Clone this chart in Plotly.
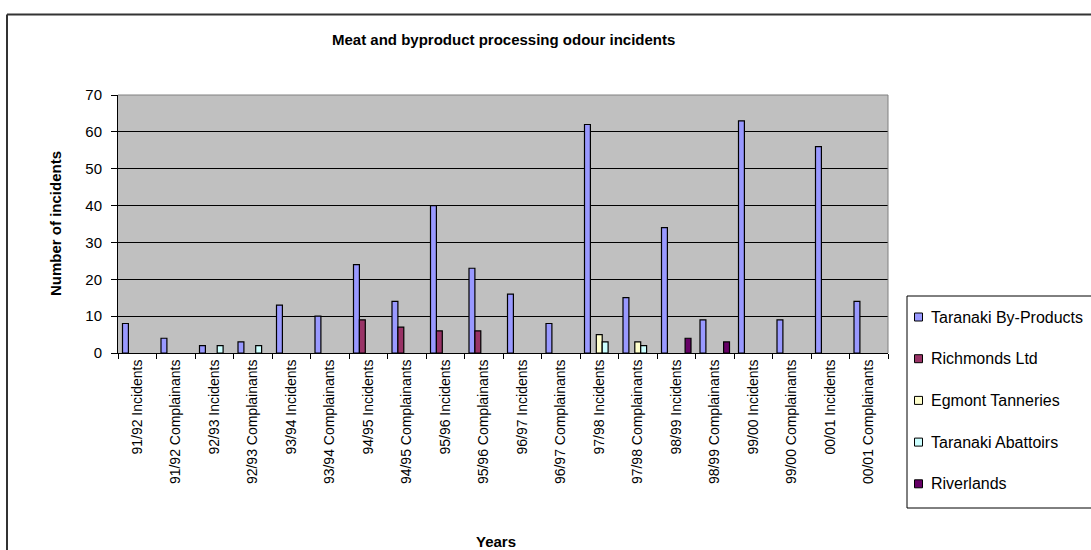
import plotly.graph_objects as go

# ---- data -------------------------------------------------------------
categories = [
    "91/92 Incidents", "91/92 Complainants",
    "92/93 Incidents", "92/93 Complainants",
    "93/94 Incidents", "93/94 Complainants",
    "94/95 Incidents", "94/95 Complainants",
    "95/96 Incidents", "95/96 Complainants",
    "96/97 Incidents", "96/97 Complainants",
    "97/98 Incidents", "97/98 Complainants",
    "98/99 Incidents", "98/99 Complainants",
    "99/00 Incidents", "99/00 Complainants",
    "00/01 Incidents", "00/01 Complainants",
]

taranaki_by_products = [8, 4, 2, 3, 13, 10, 24, 14, 40, 23, 16, 8, 62, 15, 34, 9, 63, 9, 56, 14]
richmonds_ltd = [None, None, None, None, None, None, 9, 7, 6, 6,
                 None, None, None, None, None, None, None, None, None, None]
egmont_tanneries = [None, None, None, None, None, None, None, None, None, None,
                    None, None, 5, 3, None, None, None, None, None, None]
taranaki_abattoirs = [None, None, 2, 2, None, None, None, None, None, None,
                      None, None, 3, 2, None, None, None, None, None, None]
riverlands = [None, None, None, None, None, None, None, None, None, None,
              None, None, None, None, 4, 3, None, None, None, None]

series_names = ["Taranaki By-Products", "Richmonds Ltd", "Egmont Tanneries",
                "Taranaki Abattoirs", "Riverlands"]
series_values = [taranaki_by_products, richmonds_ltd, egmont_tanneries,
                 taranaki_abattoirs, riverlands]
series_colors = ["#9999FF", "#993366", "#FFFFCC", "#CCFFFF", "#660066"]

y_ticks = [0, 10, 20, 30, 40, 50, 60, 70]

# ---- page geometry (pixels) ------------------------------------------
W, H = 1091, 550
PL, PR, PT, PB = 118, 888, 95, 353   # plot area edges

FONT = "Arial, Liberation Sans, sans-serif"


def px(x):
    return (x - PL) / (PR - PL)


def py(y):
    return (PB - y) / (PB - PT)


def hline(x0, x1, y, color, width):
    return dict(type="line", xref="paper", yref="paper",
                x0=px(x0), x1=px(x1), y0=py(y), y1=py(y),
                line=dict(color=color, width=width))


def vline(x, y0, y1, color, width):
    return dict(type="line", xref="paper", yref="paper",
                x0=px(x), x1=px(x), y0=py(y0), y1=py(y1),
                line=dict(color=color, width=width))


fig = go.Figure()
for name, vals, col in zip(series_names, series_values, series_colors):
    fig.add_trace(go.Bar(
        x=categories, y=vals, name=name,
        marker=dict(color=col, line=dict(color="black", width=1.2)),
        showlegend=False,
    ))

shapes = []
annotations = []

# outer chart frame: only the top and left edges fall inside the page
shapes.append(hline(7, W, 14.5, "#333333", 2))
shapes.append(vline(7, 14.5, H, "#333333", 2))

# grey plot-area edges (top and right)
shapes.append(dict(type="line", xref="paper", yref="paper", x0=0, x1=1, y0=1, y1=1,
                   line=dict(color="#808080", width=1)))
shapes.append(dict(type="line", xref="paper", yref="paper", x0=1, x1=1, y0=0, y1=1,
                   line=dict(color="#808080", width=1)))

# legend box (open on the right, where it leaves the page) with entries
LEG_X0, LEG_Y0, LEG_Y1 = 907, 296, 508
shapes.append(hline(LEG_X0, W, LEG_Y0, "black", 1))
shapes.append(hline(LEG_X0, W, LEG_Y1, "black", 1))
shapes.append(vline(LEG_X0, LEG_Y0, LEG_Y1, "black", 1))
for i, (name, col) in enumerate(zip(series_names, series_colors)):
    cy = 317 + 41.7 * i
    shapes.append(dict(type="rect", xref="paper", yref="paper",
                       x0=px(914.5), x1=px(922.5), y0=py(cy - 4), y1=py(cy + 4),
                       line=dict(color="black", width=1), fillcolor=col))
    annotations.append(dict(text=name, xref="paper", yref="paper",
                            x=px(929), y=py(cy), xanchor="left", yanchor="middle",
                            showarrow=False, font=dict(family=FONT, size=16, color="black")))

# titles
annotations.append(dict(text="<b>Meat and byproduct processing odour incidents</b>",
                        xref="paper", yref="paper", x=px(503), y=py(39),
                        xanchor="center", yanchor="middle", showarrow=False,
                        font=dict(family=FONT, size=15, color="black")))
annotations.append(dict(text="<b>Years</b>", xref="paper", yref="paper",
                        x=px(496), y=py(541), xanchor="center", yanchor="middle",
                        showarrow=False, font=dict(family=FONT, size=15, color="black")))
annotations.append(dict(text="<b>Number of incidents</b>", xref="paper", yref="paper",
                        x=px(55), y=py(224), xanchor="center", yanchor="middle",
                        textangle=-90, showarrow=False,
                        font=dict(family=FONT, size=15, color="black")))

fig.update_layout(
    width=W, height=H,
    margin=dict(l=PL, r=W - PR, t=PT, b=H - PB, autoexpand=False),
    paper_bgcolor="white",
    plot_bgcolor="#C0C0C0",
    barmode="group",
    bargap=0.234,
    bargroupgap=0,
    shapes=shapes,
    annotations=annotations,
    font=dict(family=FONT, color="black"),
)

fig.update_xaxes(
    type="category",
    showline=True, linecolor="black", linewidth=1,
    ticks="outside", tickson="boundaries", ticklen=5, tickcolor="black", tickwidth=1,
    tickangle=-90, tickfont=dict(family=FONT, size=14, color="black"),
    showgrid=False, zeroline=False,
)
fig.update_yaxes(
    range=[0, 70], tickvals=y_ticks,
    showline=True, linecolor="black", linewidth=1,
    ticks="outside", ticklen=6, tickcolor="black", tickwidth=1,
    ticklabelstandoff=6,
    tickfont=dict(family=FONT, size=15, color="black"),
    showgrid=True, gridcolor="black", gridwidth=1, zeroline=False,
)

fig.write_html("out.html")
